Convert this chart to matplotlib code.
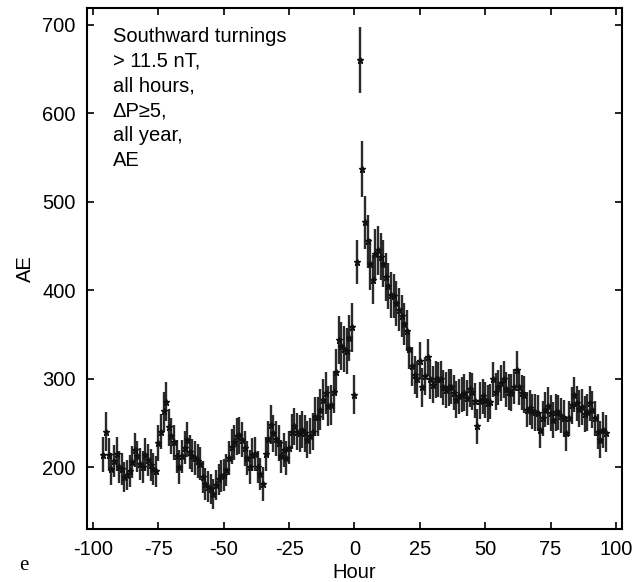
import matplotlib
matplotlib.use('Agg')
import matplotlib.pyplot as plt
import numpy as np

# hourly superposed-epoch AE values, hour -96 .. 96
hours = np.arange(-96, 97)

ae = [
    214, 240, 214, 198, 207, 215, 200, 198, 189, 191, 196, 206, 219, 212, 203, 200, 214, 208, 202, 198, 195,
    227, 240, 263, 274, 245, 235, 228, 212, 200, 212, 222, 231, 217, 213, 210, 207, 204, 189, 181, 178, 175,
    170, 180, 186, 190, 191,
    197, 210, 223, 228, 235, 236, 231, 221, 210, 200, 214, 215, 200, 192, 181, 215, 232, 248, 238, 232, 227,
    212, 219, 210, 222, 240, 246, 240, 238, 242, 238, 231, 235, 240, 257, 257, 265, 276, 284, 269, 270, 285,
    308, 344, 337, 333, 331, 346, 358, 282, 432, 660, 537, 477,
    455, 429, 412, 441, 445, 438, 430, 415, 405, 394, 393, 385, 378, 371, 362, 354, 333, 314, 304, 299, 320,
    290, 303, 324, 299, 293, 299,
    299, 299, 290, 287, 290, 291, 284, 276, 280, 282, 284, 278, 288, 285, 275, 246, 275, 280, 276, 272, 274,
    299, 285, 290, 295, 299, 288, 285, 284, 291, 310, 290, 284, 282, 265, 267, 263, 262, 261, 242, 255, 265,
    269, 261, 253, 262, 262, 258, 255, 238, 255, 270, 282, 272, 266, 268, 260, 262, 272, 265, 255, 240, 231,
    242, 238,
]

ae_err = [
    20, 22, 19, 18, 18, 19, 18, 18, 17, 17, 18, 18, 19, 18, 18, 18, 19, 18, 18, 18, 18,
    20, 20, 22, 22, 21, 20, 20, 19, 19, 19, 19, 20, 19, 19, 19, 19, 19, 18, 18, 18, 17, 17, 17, 18, 18, 18,
    18, 19, 20, 20, 21, 21, 20, 20, 19, 19, 19, 19, 18, 18, 19, 19, 20, 22, 21, 20,
    20, 19, 19, 19, 19, 20, 21, 21, 21, 21, 21, 21, 20, 21, 22, 22, 23, 23, 24, 23,
    23, 24, 25, 27, 27, 26, 26, 26, 28, 22, 25, 37, 32, 30,
    30, 29, 28, 28, 28, 27, 27, 27, 26, 26, 25, 25, 24, 24, 24, 23, 22, 22, 21, 21, 21, 22, 21, 21, 22, 21, 21,
    20, 21, 20, 20, 21, 20, 20, 21, 20, 20, 21, 20, 20, 21, 20, 20, 21, 20, 20, 21,
    20, 20, 21, 20, 20, 21, 20, 20, 21, 20, 21, 20, 20, 21, 20, 20, 20, 21, 20, 20,
    20, 20, 21, 20, 20, 21, 20, 20, 21, 20, 20, 21, 20, 20, 21, 20, 20, 21, 20, 21,
    20, 20, 21, 20, 21,
]

label_text = "Southward turnings\n> 11.5 nT,\nall hours,\n\u0394P\u22655,\nall year,\nAE"
x_ticks = [-100, -75, -50, -25, 0, 25, 50, 75, 100]
y_ticks = [200, 300, 400, 500, 600, 700]

plt.rcParams['font.family'] = ['Liberation Sans', 'DejaVu Sans']

fig = plt.figure(figsize=(6.33, 5.82), dpi=100)
ax = fig.add_axes([0.1374, 0.0911, 0.8452, 0.8952])

ax.errorbar(hours, ae, yerr=ae_err, fmt='*', color='#111111', ecolor='#2a2a2a',
            elinewidth=1.7, markersize=5, capsize=0)

ax.set_xlim(-102.3, 102.3)
ax.set_ylim(130, 719)
ax.set_xticks(x_ticks)
ax.set_xticklabels([str(t) for t in x_ticks])
ax.set_yticks(y_ticks)
ax.tick_params(direction='in', length=5, width=1.2, top=True, right=True,
               labelsize=14.5, pad=8)
for s in ax.spines.values():
    s.set_linewidth(1.5)

ax.set_xlabel("Hour", fontsize=14.5, labelpad=3)
ax.set_ylabel("AE", fontsize=14.5, labelpad=5)

ax.text(0.048, 0.963, label_text, transform=ax.transAxes, ha='left', va='top',
        fontsize=14.5, linespacing=1.38)
fig.text(0.03, 0.012, "e", fontsize=15, family='Liberation Serif', ha='left', va='bottom')

fig.savefig('out.png', dpi=100)
